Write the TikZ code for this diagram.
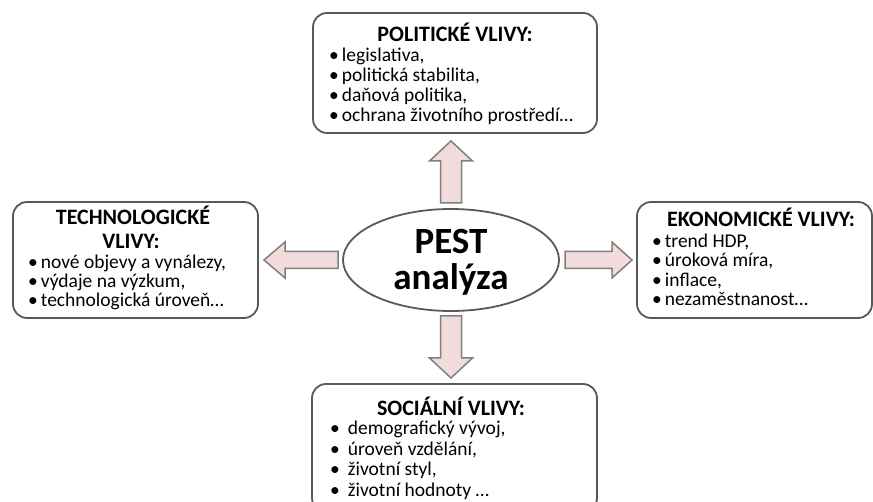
\documentclass[tikz,border=0pt]{standalone}
\usepackage{fontspec}
\setmainfont{Carlito}
\usetikzlibrary{shapes.geometric}
\definecolor{arrowfill}{HTML}{F2DCDB}
\definecolor{arrowline}{HTML}{7F7F7F}
\definecolor{boxline}{HTML}{595959}
\begin{document}
\begin{tikzpicture}[x=1pt,y=-1pt,
  box/.style={draw=boxline,line width=1.8pt,rounded corners=14pt,fill=white},
  blockarrow/.style={fill=arrowfill,draw=arrowline,line width=1.5pt,line join=miter},
  title/.style={font=\fontsize{22}{24}\selectfont\bfseries,anchor=base,inner sep=0pt},
  item/.style={font=\fontsize{19.5}{22}\selectfont,anchor=base west,inner sep=0pt},
  pesttext/.style={font=\fontsize{37}{40}\selectfont\bfseries,anchor=base,inner sep=0pt},
  center/.style={ellipse,draw=boxline,line width=1.8pt,fill=white,minimum width=216pt,minimum height=102pt,inner sep=0pt}]
\useasboundingbox (0,0) rectangle (873,502);
% boxes
\draw[box] (313,13) rectangle (597,133);
\draw[box] (13,202) rectangle (258,318);
\draw[box] (637,202) rectangle (872,318);
\draw[box] (312,384) rectangle (597,512);
% central ellipse
\node[center] (pest) at (451,260) {};
\node[pesttext] (pestA) at (451,254) {PEST};
\node[pesttext] (pestB) at (451,290) {analýza};
% block arrows
\draw[blockarrow] (440.5,203) -- (440.5,161) -- (429.5,161) -- (451,141) -- (472.5,161) -- (461.5,161) -- (461.5,203) -- cycle;
\draw[blockarrow] (440.5,316) -- (440.5,358) -- (429.5,358) -- (451,378) -- (472.5,358) -- (461.5,358) -- (461.5,316) -- cycle;
\draw[blockarrow] (338,251.5) -- (285,251.5) -- (285,242) -- (264,260) -- (285,278) -- (285,268.5) -- (338,268.5) -- cycle;
\draw[blockarrow] (565,251.5) -- (612,251.5) -- (612,242) -- (632,260) -- (612,278) -- (612,268.5) -- (565,268.5) -- cycle;
% political
\node[title] (ptitle) at (455,42) {POLITICKÉ VLIVY:};
\foreach \t [count=\i] in {{legislativa,},{politická stabilita,},{daňová politika,},{ochrana životního prostředí…}}
  \node[item] (p\i) at (329,{61.5+(\i-1)*20}) {•\hspace{3pt}\t};
% technological
\node[title] (ttitle) at (133,225) {TECHNOLOGICKÉ};
\node[title] (ttitle2) at (131,249) {VLIVY:};
\foreach \t [count=\i] in {{nové objevy a vynálezy,},{výdaje na výzkum,},{technologická úroveň…}}
  \node[item] (t\i) at (28,{269+(\i-1)*19}) {•\hspace{3pt}\t};
% economic
\node[title] (etitle) at (761,227) {EKONOMICKÉ VLIVY:};
\foreach \t [count=\i] in {{trend HDP,},{úroková míra,},{inflace,},{nezaměstnanost…}}
  \node[item] (e\i) at (652,{247.5+(\i-1)*19.5}) {•\hspace{3pt}\t};
% social
\node[title] (stitle) at (451,416) {SOCIÁLNÍ VLIVY:};
\foreach \t [count=\i] in {{demografický vývoj,},{úroveň vzdělání,},{životní styl,},{životní hodnoty …}}
  \node[item] (s\i) at (330,{434.5+(\i-1)*20.5}) {•\hspace{8pt}\t};
\end{tikzpicture}
\end{document}
